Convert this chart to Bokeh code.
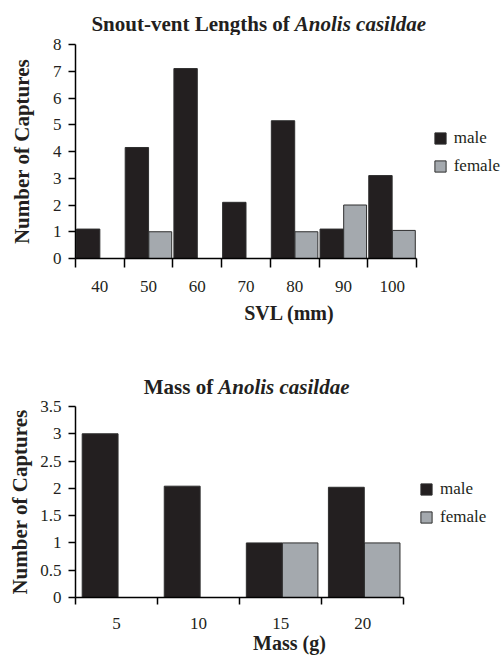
import numpy as np
from bokeh.plotting import figure
from bokeh.models import (Range1d, FixedTicker, Label, Legend, LegendItem,
                          NumeralTickFormatter, ColumnDataSource)
from bokeh.layouts import column
from bokeh.embed import file_html
from bokeh.resources import INLINE

# ---- data ----
svl_categories = ["40", "50", "60", "70", "80", "90", "100"]
svl_male = [1.1, 4.15, 7.1, 2.1, 5.15, 1.1, 3.1]
svl_female = [0, 1.0, 0, 0, 1.0, 2.0, 1.05]
svl_yticks = [0, 1, 2, 3, 4, 5, 6, 7, 8]

mass_categories = ["5", "10", "15", "20"]
mass_male = [3.0, 2.04, 1.0, 2.02]
mass_female = [0, 0, 1.0, 1.0]
mass_yticks = [0, 0.5, 1, 1.5, 2, 2.5, 3, 3.5]

FONT = "Liberation Serif"
INK = "#231f20"
MALE = "#231f20"
FEMALE = "#a4a9ae"
EDGE = "#2e2e2e"

WIDTH = 503
LEFT = 75  # common frame left (frames of a column are aligned)


def make_title(text_bold, text_italic, height, join_x, label_y):
    t = figure(width=WIDTH, height=height, output_backend="svg",
               toolbar_location=None, x_axis_type=None, y_axis_type=None,
               x_range=Range1d(0, 1), y_range=Range1d(0, 1),
               min_border_left=LEFT, min_border_right=0,
               min_border_top=0, min_border_bottom=0)
    t.outline_line_color = None
    t.grid.visible = False
    t.add_layout(Label(x=join_x - 5, y=label_y, x_units="screen",
                       y_units="screen", text=text_bold, text_align="right",
                       text_baseline="alphabetic", text_font=FONT,
                       text_font_style="bold", text_font_size="21px",
                       text_color=INK))
    t.add_layout(Label(x=join_x, y=label_y, x_units="screen",
                       y_units="screen", text=text_italic, text_align="left",
                       text_baseline="alphabetic", text_font=FONT,
                       text_font_style="bold italic", text_font_size="21px",
                       text_color=INK))
    return t


def make_chart(cats, male, female, yticks, xlabel,
               border_top, frame_h, border_bottom, axis_right,
               m_off, f_off, bw_m, bw_f, xtick_len, ylabel_standoff,
               xlab_standoff, xaxlab_standoff, legend_loc,
               legend_spacing, ytick_fmt=None):
    n = len(cats)
    frame_w = WIDTH - LEFT
    x_end = n * frame_w / (axis_right - LEFT)
    p = figure(width=WIDTH, height=border_top + frame_h + border_bottom,
               output_backend="svg", toolbar_location=None,
               x_range=Range1d(0, x_end),
               y_range=Range1d(yticks[0], yticks[-1]),
               min_border_left=LEFT, min_border_right=0,
               min_border_top=border_top, min_border_bottom=border_bottom)
    p.outline_line_color = None
    p.grid.visible = False
    p.background_fill_color = "white"
    p.border_fill_color = "white"

    idx = np.arange(n)
    src = ColumnDataSource(dict(xm=idx + m_off, xf=idx + f_off,
                                male=male, female=female))
    r_m = p.vbar(x="xm", top="male", bottom=0, width=bw_m, source=src,
                 fill_color=MALE, line_color=EDGE, line_width=1)
    r_f = p.vbar(x="xf", top="female", bottom=0, width=bw_f, source=src,
                 fill_color=FEMALE, line_color=EDGE, line_width=1)

    # x axis: labels at centres, tick marks at category boundaries
    xa = p.xaxis[0]
    centres = [i + 0.5 for i in range(n)]
    xa.ticker = FixedTicker(ticks=centres, minor_ticks=list(range(n + 1)))
    xa.bounds = (0, n)
    xa.major_label_overrides = {c: lab for c, lab in zip(centres, cats)}
    xa.major_tick_out = 0
    xa.major_tick_in = 0
    xa.minor_tick_out = xtick_len
    xa.minor_tick_in = 0
    xa.minor_tick_line_color = "black"
    xa.minor_tick_line_width = 1.5
    xa.axis_line_color = "black"
    xa.axis_line_width = 1.5
    xa.major_label_text_font = FONT
    xa.major_label_text_font_size = "17px"
    xa.major_label_text_color = INK
    xa.major_label_standoff = xlab_standoff
    xa.axis_label = xlabel
    xa.axis_label_text_font = FONT
    xa.axis_label_text_font_style = "bold"
    xa.axis_label_text_font_size = "20px"
    xa.axis_label_text_color = INK
    xa.axis_label_standoff = xaxlab_standoff

    ya = p.yaxis[0]
    ya.ticker = FixedTicker(ticks=yticks)
    if ytick_fmt:
        ya.formatter = NumeralTickFormatter(format=ytick_fmt)
    ya.major_tick_out = 7
    ya.major_tick_in = 0
    ya.minor_tick_line_color = None
    ya.major_tick_line_color = "black"
    ya.major_tick_line_width = 1.5
    ya.axis_line_color = "black"
    ya.axis_line_width = 1.5
    ya.major_label_text_font = FONT
    ya.major_label_text_font_size = "17px"
    ya.major_label_text_color = INK
    ya.major_label_standoff = 7
    ya.axis_label = "Number of Captures"
    ya.axis_label_text_font = FONT
    ya.axis_label_text_font_style = "bold"
    ya.axis_label_text_font_size = "21px"
    ya.axis_label_text_color = INK
    ya.axis_label_standoff = ylabel_standoff

    legend = Legend(items=[LegendItem(label="male", renderers=[r_m]),
                           LegendItem(label="female", renderers=[r_f])],
                    location=legend_loc, orientation="vertical",
                    glyph_width=14, glyph_height=14, label_standoff=7,
                    spacing=legend_spacing, padding=0, margin=0,
                    border_line_color=None, background_fill_alpha=0,
                    label_text_font=FONT, label_text_font_size="17px",
                    label_text_color=INK)
    p.add_layout(legend, "center")
    return p


# top chart occupies page y 0..330, frame 44..258
t1 = make_title("Snout-vent Lengths of", "Anolis casildae",
                height=35, join_x=219.3, label_y=12)
p1 = make_chart(svl_categories, svl_male, svl_female, svl_yticks, "SVL (mm)",
                border_top=9, frame_h=214, border_bottom=72, axis_right=416,
                m_off=0.26, f_off=0.74, bw_m=0.48, bw_f=0.47,
                xtick_len=9, ylabel_standoff=16, xlab_standoff=13,
                xaxlab_standoff=7, legend_loc=(357.7, 82), legend_spacing=8)

# bottom chart occupies page y 330..656, frame 406..597
t2 = make_title("Mass of", "Anolis casildae",
                height=68, join_x=142.7, label_y=11.5)
p2 = make_chart(mass_categories, mass_male, mass_female, mass_yticks,
                "Mass (g)", border_top=8, frame_h=191, border_bottom=59,
                axis_right=403.3, m_off=0.30, f_off=0.737, bw_m=0.437,
                bw_f=0.433, xtick_len=7, ylabel_standoff=5, xlab_standoff=13,
                xaxlab_standoff=0, legend_loc=(344, 70), legend_spacing=8,
                ytick_fmt="0.[0]")

layout = column(t1, p1, t2, p2, spacing=0)
open("out.html", "w").write(file_html(layout, INLINE))
